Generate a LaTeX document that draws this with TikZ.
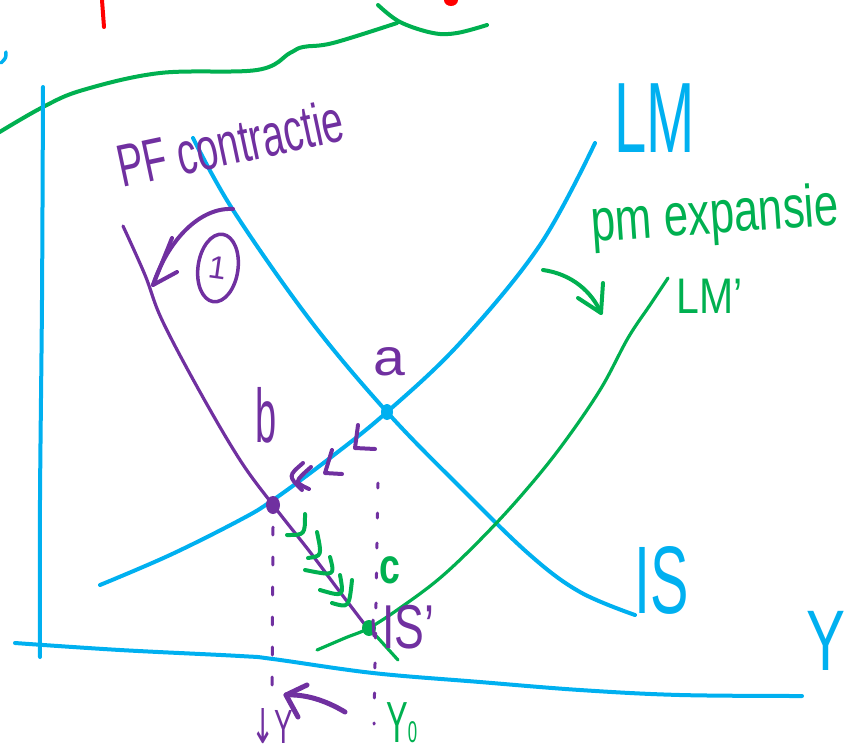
\documentclass[tikz,border=0pt]{standalone}
\usepackage{fontspec}
\usepackage{graphicx}
\setmainfont{Liberation Sans}
\newfontfamily\dejavu{DejaVu Sans}
\usetikzlibrary{shapes.geometric}
\definecolor{skyb}{HTML}{00B0F0}
\definecolor{purp}{HTML}{7030A0}
\definecolor{grn}{HTML}{00B050}
\definecolor{redd}{HTML}{FF0000}
\newcommand\mylab[3]{\scalebox{#2}[1]{\fontsize{#1}{#1}\selectfont #3}}
\begin{document}
\begin{tikzpicture}[x=1pt,y=-1pt,line cap=round,line join=round,
  bluecurve/.style={draw=skyb,line width=4pt},
  purpcurve/.style={draw=purp,line width=3.2pt},
  grncurve/.style={draw=grn,line width=3.2pt},
  purpmark/.style={draw=purp,line width=4pt},
  grnmark/.style={draw=grn,line width=4pt},
  lbl/.style={inner sep=0pt,anchor=base west}]
\useasboundingbox (0,0) rectangle (848,753);
% top fragments
\draw[draw=redd,line width=4pt] (102,0) -- (104,27);
\fill[redd] (451,0) ellipse [x radius=7,y radius=6];
\draw[skyb,line width=3.5pt] (6,52) .. controls (6,58) .. (1,63);
\draw[grncurve,line width=4pt] plot[smooth,tension=0.6] coordinates {(-2,133) (43,107) (83,90) (160,73) (257,70) (290,53) (303,47) (333,43) (397,23)};
\draw[grncurve,line width=4pt] plot[smooth,tension=0.6] coordinates {(378,5) (400,22) (433,33) (457,33) (487,25)};
% axes
\draw[bluecurve] plot[smooth] coordinates {(43,87) (42,300) (40,500) (40,657)};
\draw[bluecurve] plot[smooth,tension=0.6] coordinates {(15,643) (120,650) (240,656) (273,659) (373,673) (480,682) (580,690) (680,695) (802,696)};
% named points
\coordinate (a) at (387,412);
\coordinate (b) at (273,505);
\coordinate (c) at (369,628);
% LM and IS
\draw[bluecurve] plot[smooth,tension=0.6] coordinates {(100,585) (170,555) (240,520) (273,500) (330,458) (387,412) (460,343) (540,245) (595,143)};
\draw[bluecurve] plot[smooth,tension=0.6] coordinates {(193,138) (233,210) (310,320) (387,412) (460,487) (530,555) (580,592) (635,615)};
% IS'
\draw[purpcurve] plot[smooth,tension=0.6] coordinates {(123,226) (145,275) (162,320) (200,392) (240,460) (273,505) (310,552) (340,592) (369,630)};
% LM'
\draw[grncurve] plot[smooth,tension=0.6] coordinates {(317,650) (345,638) (369,628) (400,608) (440,578) (480,540) (520,497) (560,448) (600,390) (628,338) (650,305) (668,278)};
\draw[grncurve] (369,628) -- (398,660);
% guide lines
\draw[purp,line width=3pt,dash pattern=on 8pt off 22pt] (273,527) -- (272,700);
\draw[purp,line width=3pt,dash pattern=on 5pt off 25pt] (378,483) -- (374,724);
% dots
\fill[skyb] (a) ellipse [x radius=6,y radius=8];
\fill[purp] (b) ellipse [x radius=7,y radius=9];
\fill[grn] (c) ellipse [x radius=7,y radius=8];
\draw[purp,line width=3pt] (373,620) -- (374,636);
% arrows
\draw[purpmark] (233,209) .. controls (200,207) and (168,240) .. (153,285);
\draw[purpmark] (172,238) -- (153,285) -- (177,272);
\draw[grnmark] (543,270) .. controls (572,274) and (592,292) .. (601,313);
\draw[grnmark] (578,298) -- (601,313) -- (603,283);
\draw[purpmark,line width=5pt] (345,712) .. controls (325,700) and (305,694) .. (286,695);
\draw[purpmark,line width=5pt] (307,685) -- (286,695) -- (298,717);
% chevrons along LM
\draw[purpmark] (358,425) -- (355,448) -- (375,449);
\draw[purpmark] (332,450) -- (325,473) -- (342,474);
\draw[purpmark] (303,463) .. controls (288,476) .. (302,490);
\draw[purpmark] (311,467) .. controls (294,482) .. (309,489);
% chevrons along IS'
\draw[grnmark] (305,514) .. controls (305,535) .. (287,535);
\draw[grnmark] (317,532) .. controls (322,556) .. (308,558);
\draw[grnmark] (330,557) .. controls (335,576) .. (305,570);
\draw[grnmark] (340,575) .. controls (344,597) .. (320,590);
\draw[grnmark] (352,580) .. controls (349,608) .. (332,603);
% circled 1
\node[draw=purp,line width=3.5pt,ellipse,minimum width=40pt,minimum height=68pt,inner sep=0pt,text=purp,rotate=-8] (one) at (218,268) {\fontsize{32}{32}\selectfont 1};
% labels
\node[lbl,text=purp,rotate=12] (pf) at (122,188) {\mylab{60}{0.65}{PF contractie}};
\node[lbl,text=grn,rotate=4] (pm) at (592,242) {\mylab{60}{0.73}{pm expansie}};
\node[lbl,text=skyb] (lmlab) at (614,152) {\mylab{100}{0.58}{LM}};
\node[lbl,text=grn] (lmplab) at (676,313) {\mylab{50}{0.82}{LM'}};
\node[lbl,text=skyb] (islab) at (634,613) {\mylab{96}{0.6}{IS}};
\node[lbl,text=purp] (isplab) at (382,648) {\mylab{62}{0.72}{IS'}};
\node[lbl,text=purp] (alab) at (373,375) {\mylab{52}{1.1}{a}};
\node[lbl,text=purp] (blab) at (255,442) {\mylab{76}{0.5}{b}};
\node[lbl,text=grn] (clab) at (379,583) {\mylab{50}{0.75}{\bfseries c}};
\node[lbl,text=skyb] (ylab) at (806,670) {\mylab{86}{0.68}{Y}};
\node[lbl,text=purp] (y1lab) at (251,743) {\mylab{48}{0.58}{{\dejavu ↓}Y}};
\node[lbl,text=grn] (y0lab) at (386,742) {\mylab{58}{0.56}{Y{\fontsize{30}{30}\selectfont 0}}};
\end{tikzpicture}
\end{document}
